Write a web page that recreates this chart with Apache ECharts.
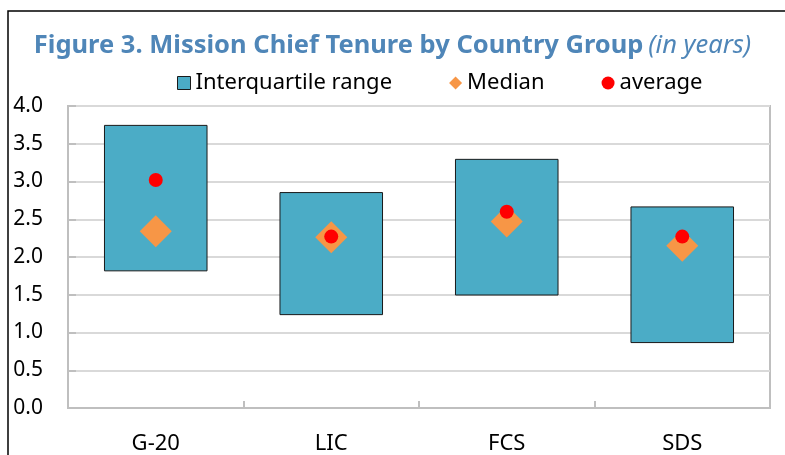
<!DOCTYPE html>
<html>
<head>
<meta charset="utf-8">
<script src="https://cdn.jsdelivr.net/npm/echarts@6/dist/echarts.min.js"></script>
<style>
  html, body { margin: 0; padding: 0; background: #fff; }
  #chart { width: 785px; height: 455px; }
</style>
</head>
<body>
<div id="chart"></div>
<script>
// mission chief tenure, quartile boxes + median + average
var categories = ['G-20', 'LIC', 'FCS', 'SDS'];
var q1 = [1.81, 1.23, 1.49, 0.86];
var q3 = [3.75, 2.86, 3.30, 2.67];
var median = [2.34, 2.26, 2.47, 2.15];
var average = [3.02, 2.27, 2.60, 2.27];
var yTicks = [0, 0.5, 1, 1.5, 2, 2.5, 3, 3.5, 4];

var FONT = 'Noto Sans';

var dom = document.getElementById('chart');
var myChart = echarts.init(dom);

var spread = [];
for (var i = 0; i < categories.length; i++) {
    spread.push(+(q3[i] - q1[i]).toFixed(3));
}

var option = {
    animation: false,
    textStyle: { fontFamily: FONT },
    title: {
        text: '{b|Figure 3. Mission Chief Tenure by Country Group} {i|(in years)}',
        left: 'center',
        top: 28,
        textStyle: {
            rich: {
                b: { fontFamily: FONT, fontSize: 25.5, fontWeight: 'bold', color: '#4f86b8' },
                i: { fontFamily: FONT, fontSize: 25.5, fontStyle: 'italic', fontWeight: 'normal', color: '#4f86b8' }
            }
        }
    },
    legend: {
        top: 67,
        left: 172,
        itemGap: 57,
        itemWidth: 13,
        itemHeight: 13,
        textStyle: { fontFamily: FONT, fontSize: 22, color: '#000' },
        data: [
            { name: 'Interquartile range', icon: 'rect', itemStyle: { borderColor: '#1a1a1a', borderWidth: 1 } },
            { name: 'Median', icon: 'diamond' },
            { name: 'average', icon: 'circle' }
        ]
    },
    grid: {
        left: 68,
        right: 15,
        top: 106,
        bottom: 46,
        show: true,
        borderColor: '#bfbfbf',
        borderWidth: 2
    },
    xAxis: {
        type: 'category',
        data: categories,
        axisLine: { lineStyle: { color: '#bfbfbf', width: 2 } },
        axisTick: { show: true, inside: true, length: 7, lineStyle: { color: '#bfbfbf', width: 2 } },
        axisLabel: { color: '#000', fontSize: 22, fontFamily: FONT, margin: 25 }
    },
    yAxis: {
        type: 'value',
        min: yTicks[0],
        max: yTicks[yTicks.length - 1],
        interval: 0.5,
        axisLine: { show: true, lineStyle: { color: '#bfbfbf', width: 2 } },
        axisTick: { show: true, inside: true, length: 8, lineStyle: { color: '#bfbfbf', width: 2 } },
        splitLine: { lineStyle: { color: '#d9d9d9', width: 2 } },
        axisLabel: {
            color: '#000', fontSize: 21, fontFamily: FONT, margin: 25,
            formatter: function (v) { return v.toFixed(1); }
        }
    },
    series: [{
        name: 'base',
        type: 'bar',
        stack: 'iqr',
        barWidth: '59%',
        silent: true,
        itemStyle: { color: 'transparent' },
        data: q1
    }, {
        name: 'Interquartile range',
        type: 'bar',
        stack: 'iqr',
        barWidth: '59%',
        itemStyle: { color: '#4bacc6', borderColor: '#1a1a1a', borderWidth: 1 },
        data: spread
    }, {
        name: 'Median',
        type: 'scatter',
        symbol: 'diamond',
        symbolSize: 32,
        itemStyle: { color: '#f79646', opacity: 1 },
        z: 3,
        data: median
    }, {
        name: 'average',
        type: 'scatter',
        symbol: 'circle',
        symbolSize: 14,
        itemStyle: { color: '#ff0000', opacity: 1 },
        z: 4,
        data: average
    }],
    graphic: [{
        type: 'polyline',
        shape: { points: [[8, 455], [8, 11], [785, 11]] },
        style: { stroke: '#000', lineWidth: 1.5, fill: null }
    }]
};
myChart.setOption(option);
</script>
</body>
</html>
